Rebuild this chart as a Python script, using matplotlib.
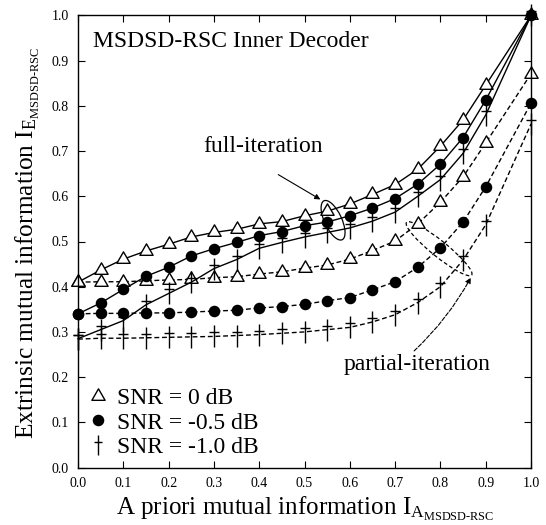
import numpy as np
import matplotlib
matplotlib.use("Agg")
import matplotlib.pyplot as plt
from matplotlib.path import Path
from matplotlib.lines import Line2D
from matplotlib.patches import Ellipse

plt.rcParams['font.family'] = ['Liberation Serif', 'DejaVu Serif']
plt.rcParams['mathtext.fontset'] = 'custom'
plt.rcParams['mathtext.rm'] = 'Liberation Serif'
plt.rcParams['mathtext.it'] = 'Liberation Serif:italic'
plt.rcParams['mathtext.bf'] = 'Liberation Serif:bold'

ia = [0.0, 0.05, 0.1, 0.15, 0.2, 0.25, 0.3, 0.35, 0.4, 0.45, 0.5,
      0.55, 0.6, 0.65, 0.7, 0.75, 0.8, 0.85, 0.9, 1.0]

full_0 = [0.410, 0.437, 0.461, 0.479, 0.494, 0.510, 0.520, 0.527, 0.539, 0.544, 0.557,
          0.567, 0.583, 0.604, 0.626, 0.660, 0.711, 0.769, 0.846, 1.0]
full_m05 = [0.340, 0.364, 0.394, 0.423, 0.443, 0.468, 0.484, 0.498, 0.513, 0.522, 0.535,
            0.543, 0.557, 0.574, 0.595, 0.627, 0.671, 0.730, 0.813, 1.0]
full_m10 = [0.285, 0.305, 0.325, 0.360, 0.385, 0.410, 0.440, 0.460, 0.485, 0.498, 0.510,
            0.520, 0.530, 0.545, 0.565, 0.600, 0.637, 0.695, 0.780, 1.0]

part_0 = [0.410, 0.411, 0.411, 0.413, 0.415, 0.416, 0.420, 0.422, 0.428, 0.433, 0.441,
          0.448, 0.461, 0.480, 0.501, 0.539, 0.587, 0.643, 0.718, 0.871]
part_m05 = [0.340, 0.341, 0.341, 0.342, 0.342, 0.344, 0.346, 0.348, 0.353, 0.356, 0.361,
            0.369, 0.376, 0.393, 0.411, 0.443, 0.486, 0.543, 0.621, 0.806]
part_m10 = [0.284, 0.286, 0.286, 0.287, 0.288, 0.289, 0.290, 0.292, 0.294, 0.297, 0.300,
            0.305, 0.310, 0.322, 0.338, 0.365, 0.400, 0.459, 0.537, 0.760]

legend_labels = ["SNR = 0 dB", "SNR = -0.5 dB", "SNR = -1.0 dB"]
ticks = [0.0, 0.1, 0.2, 0.3, 0.4, 0.5, 0.6, 0.7, 0.8, 0.9, 1.0]

dagger = Path([(0, -1), (0, 1), (-0.44, 0.33), (0.44, 0.33)],
              [Path.MOVETO, Path.LINETO, Path.MOVETO, Path.LINETO])
tri = Path([(-1, -0.577), (1, -0.577), (0, 1.155), (-1, -0.577)],
           [Path.MOVETO, Path.LINETO, Path.LINETO, Path.CLOSEPOLY])

fig = plt.figure(figsize=(5.46, 5.25), dpi=100)
ax = fig.add_axes([0.1429, 0.1095, 0.8297, 0.861])

dash = (0, (3.5, 2))
tri_kw = dict(marker=tri, markersize=11, markerfacecolor='white', markeredgecolor='black',
              markeredgewidth=1.0, color='black', lw=1.0, clip_on=False)
dot_kw = dict(marker='o', markersize=7.3, markerfacecolor='black', markeredgecolor='black',
              color='black', lw=1.0, clip_on=False)
dag_kw = dict(marker=dagger, markersize=16, markeredgewidth=1.0, markeredgecolor='black',
              color='black', lw=1.0, clip_on=False)

ax.plot(ia, part_0, linestyle=dash, **tri_kw)
ax.plot(ia, part_m05, linestyle=dash, **dot_kw)
ax.plot(ia, part_m10, linestyle=dash, **dag_kw)
ax.plot(ia, full_0, linestyle='-', **tri_kw)
ax.plot(ia, full_m05, linestyle='-', **dot_kw)
ax.plot(ia, full_m10, linestyle='-', **dag_kw)

ax.set_xlim(0, 1)
ax.set_ylim(0, 1)
ax.set_xticks(ticks)
ax.set_yticks(ticks)
ax.set_xticklabels([f"{t:.1f}" for t in ticks])
ax.set_yticklabels([f"{t:.1f}" for t in ticks])
ax.tick_params(direction='in', length=5, width=0.8, top=True, right=True,
               labelsize=10, pad=6.5)
for s in ax.spines.values():
    s.set_linewidth(1.0)

fig.text(305 / 546, 10 / 525,
         r"A priori mutual information I$_{\mathrm{A}_{\mathrm{MSDSD\text{-}RSC}}}$",
         fontsize=18, ha='center', va='baseline')
fig.text(28 / 546, 1 - 243 / 525,
         r"Extrinsic mutual information I$_{\mathrm{E}_{\mathrm{MSDSD\text{-}RSC}}}$",
         fontsize=18.3, ha='center', va='center', rotation=90)

ax.text(0.033, 0.931, "MSDSD-RSC Inner Decoder", fontsize=17, va='baseline', ha='left')

# full-iteration annotation
ax.text(0.408, 0.699, "full-iteration", fontsize=17, ha='center', va='baseline')
ax.annotate("", xy=(0.535, 0.593), xytext=(0.442, 0.648),
            arrowprops=dict(arrowstyle='-|>', color='black', lw=0.8,
                            mutation_scale=8, shrinkA=0, shrinkB=0))
ax.add_patch(Ellipse((0.563, 0.547), 0.038, 0.095, angle=25, fill=False,
                     edgecolor='black', lw=0.9))

# partial-iteration annotation
ax.text(0.748, 0.216, "partial-iteration", fontsize=17, ha='center', va='baseline')
ax.add_patch(Ellipse((0.797, 0.484), 0.185, 0.035, angle=-39, fill=False,
                     edgecolor='black', lw=0.9, linestyle=(0, (3, 2))))
ax.annotate("", xy=(0.867, 0.42), xytext=(0.742, 0.258),
            arrowprops=dict(arrowstyle='-|>', color='black', lw=0.8, linestyle='--',
                            mutation_scale=8, shrinkA=0, shrinkB=0,
                            connectionstyle='arc3,rad=0.08'))

handles = [
    Line2D([], [], linestyle='none', marker=tri, markersize=11, markerfacecolor='white',
           markeredgecolor='black'),
    Line2D([], [], linestyle='none', marker='o', markersize=7.3, markerfacecolor='black',
           markeredgecolor='black'),
    Line2D([], [], linestyle='none', marker=dagger, markersize=14, markeredgecolor='black',
           markeredgewidth=1.0),
]
ax.legend(handles, legend_labels, loc='lower left', bbox_to_anchor=(0.0235, 0.021),
          frameon=False, fontsize=17, handlelength=0.8, handletextpad=0.4,
          labelspacing=0.12, borderaxespad=0.0, borderpad=0.0)

fig.savefig("out.png", dpi=100)
